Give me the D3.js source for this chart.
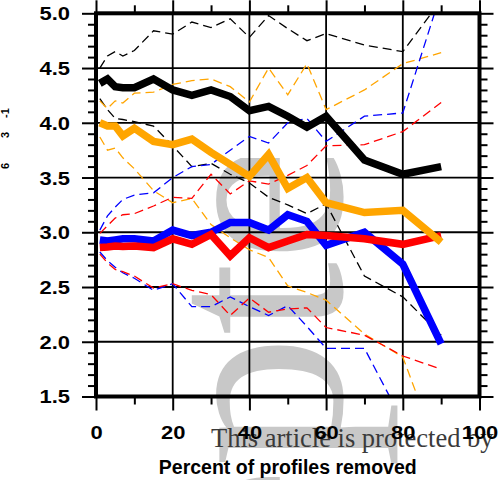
<!DOCTYPE html>
<html>
<head>
<meta charset="utf-8">
<script src="https://cdn.jsdelivr.net/npm/d3@7"></script>
<style>
  html, body { margin: 0; padding: 0; background: #ffffff; }
  svg { display: block; }
</style>
</head>
<body>
<svg id="chart" width="499" height="480"></svg>
<script>
// Percent of profiles removed (x positions of every series)
const pctRemoved = [1, 3, 5, 7, 10, 15, 20, 25, 30, 35, 40, 45, 50, 55, 60, 70, 80, 90];

// Black series: mean and spread bounds
const blackMean  = [4.36, 4.40, 4.33, 4.32, 4.32, 4.40, 4.30, 4.25, 4.30, 4.24, 4.11, 4.15, 4.06, 3.96, 4.06, 3.66, 3.53, 3.60];
const blackUpper = [4.50, 4.61, 4.65, 4.61, 4.66, 4.84, 4.81, 4.92, 4.87, 4.95, 4.78, 4.98, 4.86, 4.75, 4.815, 4.71, 4.65, 5.12];
const blackLower = [4.22, 4.12, 4.04, 4.03, 4.01, 3.97, 3.79, 3.60, 3.63, 3.53, 3.45, 3.32, 3.25, 3.17, 3.26, 2.60, 2.41, 2.06];

// Orange series
const orangeMean  = [4.00, 3.97, 3.97, 3.88, 3.95, 3.83, 3.80, 3.85, 3.73, 3.62, 3.51, 3.71, 3.40, 3.50, 3.27, 3.18, 3.20, 2.91];
const orangeUpper = [4.20, 4.13, 4.20, 4.18, 4.27, 4.28, 4.35, 4.385, 4.40, 4.33, 4.19, 4.50, 4.255, 4.54, 4.12, 4.30, 4.54, 4.64];
const orangeLower = [3.87, 3.75, 3.77, 3.68, 3.58, 3.38, 3.27, 3.31, 3.07, 2.95, 2.84, 2.77, 2.51, 2.45, 2.38, 2.07, 1.86, 0.92];

// Blue series
const blueMean  = [2.93, 2.92, 2.93, 2.94, 2.94, 2.92, 3.02, 2.97, 3.00, 3.09, 3.09, 3.02, 3.16, 3.10, 2.88, 3.00, 2.71, 1.98];
const blueUpper = [3.02, 3.15, 3.23, 3.30, 3.34, 3.36, 3.50, 3.60, 3.62, 3.75, 3.875, 3.815, 4.00, 4.04, 3.83, 4.06, 4.09, 5.19];
const blueLower = [2.82, 2.74, 2.68, 2.63, 2.58, 2.47, 2.53, 2.32, 2.32, 2.41, 2.32, 2.24, 2.33, 2.14, 1.94, 1.94, 1.27, 0.95];

// Red series
const redMean  = [2.86, 2.865, 2.875, 2.87, 2.875, 2.86, 2.94, 2.89, 2.98, 2.785, 2.95, 2.86, 2.92, 2.98, 2.97, 2.94, 2.89, 2.97];
const redUpper = [2.99, 3.06, 3.13, 3.16, 3.17, 3.24, 3.32, 3.31, 3.53, 3.35, 3.47, 3.44, 3.52, 3.61, 3.79, 3.80, 3.92, 4.185];
const redLower = [2.80, 2.72, 2.66, 2.64, 2.60, 2.49, 2.53, 2.47, 2.43, 2.24, 2.40, 2.27, 2.30, 2.31, 2.13, 2.06, 1.87, 1.75];

// Axis ticks and texts
const xMajorTicks = [0, 20, 40, 60, 80, 100];
const xMinorTicks = [10, 30, 50, 70, 90];
const yMajorTicks = [1.5, 2.0, 2.5, 3.0, 3.5, 4.0, 4.5, 5.0];
const yMinorTicks = d3.range(15, 51).map(v => v / 10).filter(v => !yMajorTicks.some(m => Math.abs(m - v) < 1e-9));
const xGridValues = [20, 40, 60, 80];
const yGridValues = [2.0, 2.5, 3.0, 3.5, 4.0, 4.5];
const xTitle = "Percent of profiles removed";
const yUnitParts = ["6", "3", "-1"];
const footerText = "This article is protected by";
const stampText = "Accepted";

// Series table built from the arrays above
const series = [
  { color: "#000000", mean: blackMean,  upper: blackUpper,  lower: blackLower },
  { color: "#ffa500", mean: orangeMean, upper: orangeUpper, lower: orangeLower },
  { color: "#0000ff", mean: blueMean,   upper: blueUpper,   lower: blueLower },
  { color: "#ff0000", mean: redMean,    upper: redUpper,    lower: redLower }
];

const svg = d3.select("#chart");
const W = 499, H = 480;
const plot = { left: 96, right: 479.5, top: 13.3, bottom: 396.5 };

const x = d3.scaleLinear().domain([0, 100]).range([plot.left, plot.right]);
const y = d3.scaleLinear().domain([1.5, 5.0]).range([plot.bottom, plot.top]);

const sansBold = "'Liberation Sans', Arial, Helvetica, sans-serif";
const serif = "'Liberation Serif', 'Times New Roman', Times, serif";

svg.append("rect").attr("width", W).attr("height", H).attr("fill", "#ffffff");

// Grey vertical stamp and footer line behind the chart
const defs = svg.append("defs");
defs.append("clipPath").attr("id", "stampClip")
  .append("rect").attr("x", 0).attr("y", 158).attr("width", W).attr("height", H - 158);
defs.append("clipPath").attr("id", "plotClip")
  .append("rect").attr("x", plot.left).attr("y", plot.top)
  .attr("width", plot.right - plot.left).attr("height", plot.bottom - plot.top);

svg.append("g").attr("clip-path", "url(#stampClip)")
  .append("text")
  .attr("transform", "translate(341,1012) rotate(-90)")
  .attr("font-family", serif)
  .attr("font-size", 265)
  .attr("fill", "#c8c8c8")
  .text(stampText);

svg.append("text")
  .attr("x", 211).attr("y", 447)
  .attr("font-family", serif)
  .attr("font-size", 26.5)
  .attr("fill", "#3a3a3a")
  .text(footerText);

// Grid lines
const grid = svg.append("g").attr("stroke", "#000").attr("stroke-width", 1.8);
grid.selectAll("line.gx").data(xGridValues).join("line")
  .attr("x1", d => x(d)).attr("x2", d => x(d))
  .attr("y1", plot.top).attr("y2", plot.bottom);
grid.selectAll("line.gy").data(yGridValues).join("line")
  .attr("x1", plot.left).attr("x2", plot.right)
  .attr("y1", d => y(d)).attr("y2", d => y(d));

// Lines: dashed bounds first, heavy means on top
const lineGen = d3.line().x((d, i) => x(pctRemoved[i])).y(d => y(d));
const lines = svg.append("g").attr("clip-path", "url(#plotClip)").attr("fill", "none");

series.forEach(s => {
  [s.upper, s.lower].forEach(arr => {
    lines.append("path")
      .attr("d", lineGen(arr))
      .attr("stroke", s.color)
      .attr("stroke-width", 1.3)
      .attr("stroke-dasharray", "9,5");
  });
});

const thickOrder = [2, 3, 1, 0];
thickOrder.forEach(k => {
  const s = series[k];
  lines.append("path")
    .attr("d", lineGen(s.mean))
    .attr("stroke", s.color)
    .attr("stroke-width", 7.5)
    .attr("stroke-linejoin", "miter")
    .attr("stroke-miterlimit", 3)
    .attr("stroke-linecap", "butt");
});

// Axes: ticks on all four sides, labels left and bottom
function styleAxis(g) {
  g.select(".domain").remove();
  g.selectAll(".tick line").attr("stroke", "#000").attr("stroke-width", 2);
}
const stretch = 1.22;

const leftMajor = svg.append("g").attr("transform", `translate(${plot.left},0)`)
  .call(d3.axisLeft(y).tickValues(yMajorTicks).tickSize(14).tickFormat(d3.format(".1f")));
styleAxis(leftMajor);
leftMajor.selectAll(".tick text")
  .attr("x", -26 / stretch).attr("dy", "0.36em")
  .attr("transform", `scale(${stretch},1)`)
  .attr("font-family", sansBold).attr("font-weight", "bold").attr("font-size", 18)
  .attr("fill", "#000");
const leftMinor = svg.append("g").attr("transform", `translate(${plot.left},0)`)
  .call(d3.axisLeft(y).tickValues(yMinorTicks).tickSize(8).tickFormat(""));
styleAxis(leftMinor);

const rightMajor = svg.append("g").attr("transform", `translate(${plot.right},0)`)
  .call(d3.axisRight(y).tickValues(yMajorTicks).tickSize(14).tickFormat(""));
styleAxis(rightMajor);
const rightMinor = svg.append("g").attr("transform", `translate(${plot.right},0)`)
  .call(d3.axisRight(y).tickValues(yMinorTicks).tickSize(8).tickFormat(""));
styleAxis(rightMinor);

const bottomMajor = svg.append("g").attr("transform", `translate(0,${plot.bottom})`)
  .call(d3.axisBottom(x).tickValues(xMajorTicks).tickSize(14).tickFormat(d3.format("d")));
styleAxis(bottomMajor);
bottomMajor.selectAll(".tick text")
  .attr("y", 42.5).attr("dy", 0)
  .attr("transform", `scale(${stretch},1)`)
  .attr("font-family", sansBold).attr("font-weight", "bold").attr("font-size", 18)
  .attr("fill", "#000");
const bottomMinor = svg.append("g").attr("transform", `translate(0,${plot.bottom})`)
  .call(d3.axisBottom(x).tickValues(xMinorTicks).tickSize(8).tickFormat(""));
styleAxis(bottomMinor);

const topMajor = svg.append("g").attr("transform", `translate(0,${plot.top})`)
  .call(d3.axisTop(x).tickValues(xMajorTicks).tickSize(13).tickFormat(""));
styleAxis(topMajor);
const topMinor = svg.append("g").attr("transform", `translate(0,${plot.top})`)
  .call(d3.axisTop(x).tickValues(xMinorTicks).tickSize(8).tickFormat(""));
styleAxis(topMinor);

// Heavy frame
svg.append("rect")
  .attr("x", plot.left).attr("y", plot.top)
  .attr("width", plot.right - plot.left).attr("height", plot.bottom - plot.top)
  .attr("fill", "none").attr("stroke", "#000").attr("stroke-width", 4);

// Axis titles
svg.append("text")
  .attr("x", (plot.left + plot.right) / 2).attr("y", 473.5)
  .attr("text-anchor", "middle")
  .attr("font-family", sansBold).attr("font-weight", "bold").attr("font-size", 19.5)
  .attr("fill", "#000")
  .text(xTitle);

const unitY = [166, 135, 113];
svg.append("g").selectAll("text").data(yUnitParts).join("text")
  .attr("transform", (d, i) => `translate(8.5,${unitY[i]}) rotate(-90)`)
  .attr("text-anchor", "middle")
  .attr("font-family", sansBold).attr("font-weight", "bold").attr("font-size", 11)
  .attr("fill", "#000")
  .text(d => d);
</script>
</body>
</html>
